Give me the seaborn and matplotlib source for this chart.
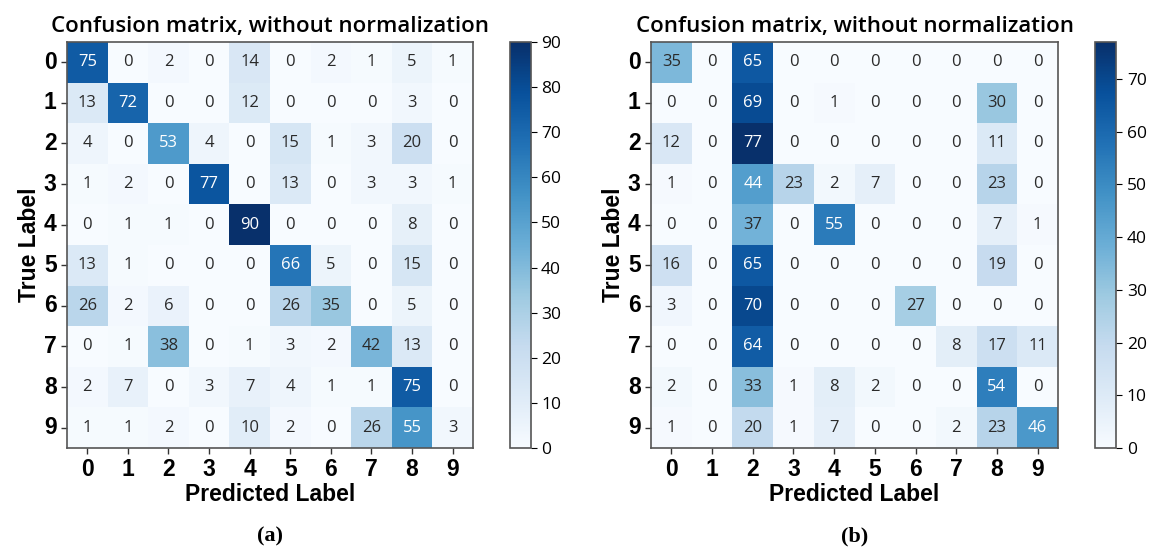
import matplotlib
matplotlib.use('Agg')

import numpy as np
import matplotlib.pyplot as plt
import seaborn as sns

labels = [str(i) for i in range(10)]

# (a) confusion matrix
cm_a = np.array([
    [75, 0, 2, 0, 14, 0, 2, 1, 5, 1],
    [13, 72, 0, 0, 12, 0, 0, 0, 3, 0],
    [4, 0, 53, 4, 0, 15, 1, 3, 20, 0],
    [1, 2, 0, 77, 0, 13, 0, 3, 3, 1],
    [0, 1, 1, 0, 90, 0, 0, 0, 8, 0],
    [13, 1, 0, 0, 0, 66, 5, 0, 15, 0],
    [26, 2, 6, 0, 0, 26, 35, 0, 5, 0],
    [0, 1, 38, 0, 1, 3, 2, 42, 13, 0],
    [2, 7, 0, 3, 7, 4, 1, 1, 75, 0],
    [1, 1, 2, 0, 10, 2, 0, 26, 55, 3],
])

# (b) confusion matrix
cm_b = np.array([
    [35, 0, 65, 0, 0, 0, 0, 0, 0, 0],
    [0, 0, 69, 0, 1, 0, 0, 0, 30, 0],
    [12, 0, 77, 0, 0, 0, 0, 0, 11, 0],
    [1, 0, 44, 23, 2, 7, 0, 0, 23, 0],
    [0, 0, 37, 0, 55, 0, 0, 0, 7, 1],
    [16, 0, 65, 0, 0, 0, 0, 0, 19, 0],
    [3, 0, 70, 0, 0, 0, 27, 0, 0, 0],
    [0, 0, 64, 0, 0, 0, 0, 8, 17, 11],
    [2, 0, 33, 1, 8, 2, 0, 0, 54, 0],
    [1, 0, 20, 1, 7, 0, 0, 2, 23, 46],
])

title = "Confusion matrix, without normalization"
arial = ['Liberation Sans', 'DejaVu Sans']
segoe = ['Open Sans', 'DejaVu Sans']

fig = plt.figure(figsize=(11.51, 5.49), dpi=100)


def draw(cm, ax_rect, cbar_rect, ticks, tag):
    ax = fig.add_axes(ax_rect)
    cax = fig.add_axes(cbar_rect)
    sns.heatmap(cm, ax=ax, cbar_ax=cax, cmap='Blues', vmin=0, vmax=cm.max(),
                annot=False, xticklabels=labels, yticklabels=labels)
    thresh = cm.max() / 2.
    for i in range(cm.shape[0]):
        for j in range(cm.shape[1]):
            ax.text(j + 0.5, i + 0.5, format(cm[i, j], 'd'),
                    ha='center', va='center', fontsize=12, family=segoe,
                    color='white' if cm[i, j] > thresh else '#2a2a2a')
    for s in ax.spines.values():
        s.set_visible(True)
        s.set_color('#555555')
        s.set_linewidth(1.2)
    ax.tick_params(axis='both', length=4, width=1, color='#333333')
    ax.set_xticklabels(labels, rotation=0, fontsize=16.5, fontweight='bold', family=arial)
    ax.set_yticklabels(labels, rotation=0, fontsize=16.5, fontweight='bold', family=arial)
    ax.set_title(title, fontsize=16, fontweight='semibold', family=segoe, pad=7)
    ax.set_xlabel('Predicted Label', fontsize=16.5, fontweight='bold', family=arial, labelpad=1)
    ax.set_ylabel('True Label', fontsize=16.5, fontweight='bold', family=arial, labelpad=2)

    cb = ax.collections[0].colorbar
    cb.set_ticks(ticks)
    cb.outline.set_visible(True)
    cb.outline.set_edgecolor('#555555')
    cb.outline.set_linewidth(1.2)
    cax.tick_params(labelsize=12.5, length=4)
    for t in cax.get_yticklabels():
        t.set_family(segoe)

    x_mid = ax_rect[0] + ax_rect[2] / 2
    fig.text(x_mid, 0.022, tag, ha='center', va='center', fontsize=16,
             fontweight='bold', family='Liberation Serif')
    return ax


draw(cm_a, [0.0582, 0.184, 0.3527, 0.7395], [0.443, 0.184, 0.018, 0.7395],
     list(range(0, 91, 10)), '(a)')
draw(cm_b, [0.5656, 0.184, 0.3536, 0.7395], [0.951, 0.184, 0.019, 0.7395],
     list(range(0, 71, 10)), '(b)')

fig.savefig('out.png', dpi=100)
